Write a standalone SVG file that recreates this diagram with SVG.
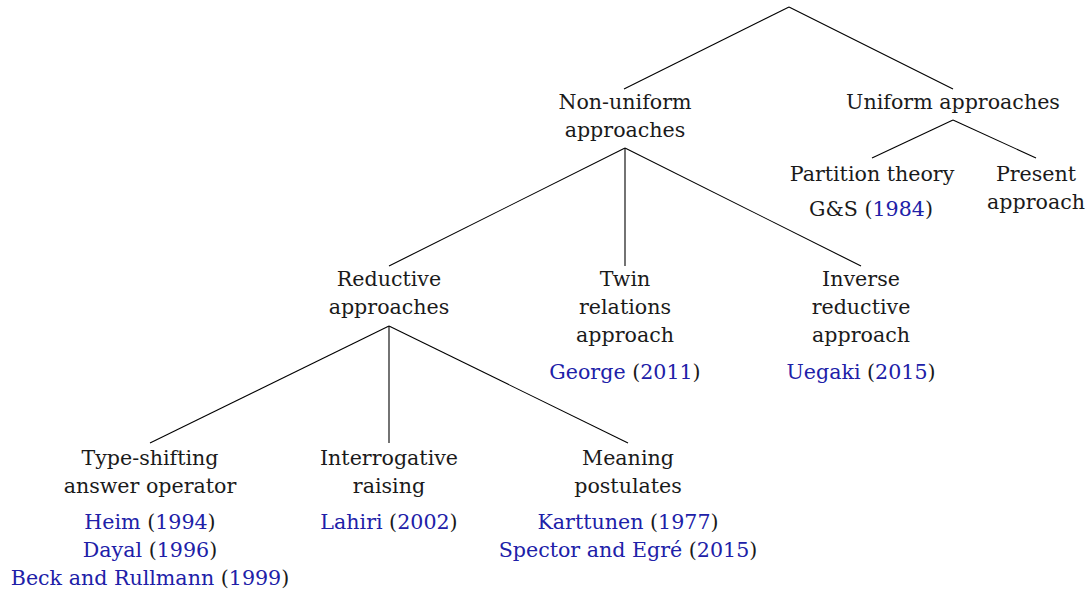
<svg xmlns="http://www.w3.org/2000/svg" width="1086" height="593" viewBox="0 0 1086 593">
<style>
text{font-family:"DejaVu Serif",serif;font-size:20.6px;fill:#1a1a1a;text-anchor:middle}
.c{fill:#2020a8}
.k{fill:#1a1a1a}
.e{stroke:#000;stroke-width:1.1;fill:none}
</style>
<rect width="1086" height="593" fill="#fff"/>
<g id="connectors">
<line class="e" x1="789" y1="7" x2="624" y2="89"/>
<line class="e" x1="789" y1="7" x2="953" y2="89"/>
<line class="e" x1="625" y1="148" x2="389" y2="266"/>
<line class="e" x1="625" y1="148" x2="625" y2="266"/>
<line class="e" x1="625" y1="148" x2="861" y2="266"/>
<line class="e" x1="953" y1="120" x2="872" y2="158"/>
<line class="e" x1="953" y1="120" x2="1036" y2="158"/>
<line class="e" x1="389" y1="326" x2="150" y2="443"/>
<line class="e" x1="389" y1="326" x2="389" y2="443"/>
<line class="e" x1="389" y1="326" x2="628" y2="443"/>
</g>
<g id="nonuniform">
<text x="625" y="109">Non-uniform</text>
<text x="625" y="137">approaches</text>
</g>
<g id="uniform">
<text x="953" y="109">Uniform approaches</text>
</g>
<g id="partition">
<text x="872" y="181">Partition theory</text>
<text x="871" y="216">G&amp;S <tspan class="k">(</tspan><tspan class="c">1984</tspan><tspan class="k">)</tspan></text>
</g>
<g id="present">
<text x="1036" y="181">Present</text>
<text x="1036" y="209">approach</text>
</g>
<g id="reductive">
<text x="389" y="286">Reductive</text>
<text x="389" y="314">approaches</text>
</g>
<g id="twin">
<text x="625" y="286">Twin</text>
<text x="625" y="314">relations</text>
<text x="625" y="342">approach</text>
<text x="625" y="379"><tspan class="c">George</tspan> (<tspan class="c">2011</tspan>)</text>
</g>
<g id="inverse">
<text x="861" y="286">Inverse</text>
<text x="861" y="314">reductive</text>
<text x="861" y="342">approach</text>
<text x="861" y="379"><tspan class="c">Uegaki</tspan> (<tspan class="c">2015</tspan>)</text>
</g>
<g id="typeshifting">
<text x="150" y="465">Type-shifting</text>
<text x="150" y="493">answer operator</text>
<text x="150" y="529"><tspan class="c">Heim</tspan> (<tspan class="c">1994</tspan>)</text>
<text x="150" y="557"><tspan class="c">Dayal</tspan> (<tspan class="c">1996</tspan>)</text>
<text x="150" y="585"><tspan class="c">Beck and Rullmann</tspan> (<tspan class="c">1999</tspan>)</text>
</g>
<g id="interrogative">
<text x="389" y="465">Interrogative</text>
<text x="389" y="493">raising</text>
<text x="389" y="529"><tspan class="c">Lahiri</tspan> (<tspan class="c">2002</tspan>)</text>
</g>
<g id="meaning">
<text x="628" y="465">Meaning</text>
<text x="628" y="493">postulates</text>
<text x="628" y="529"><tspan class="c">Karttunen</tspan> (<tspan class="c">1977</tspan>)</text>
<text x="628" y="557"><tspan class="c">Spector and Egré</tspan> (<tspan class="c">2015</tspan>)</text>
</g>
</svg>
